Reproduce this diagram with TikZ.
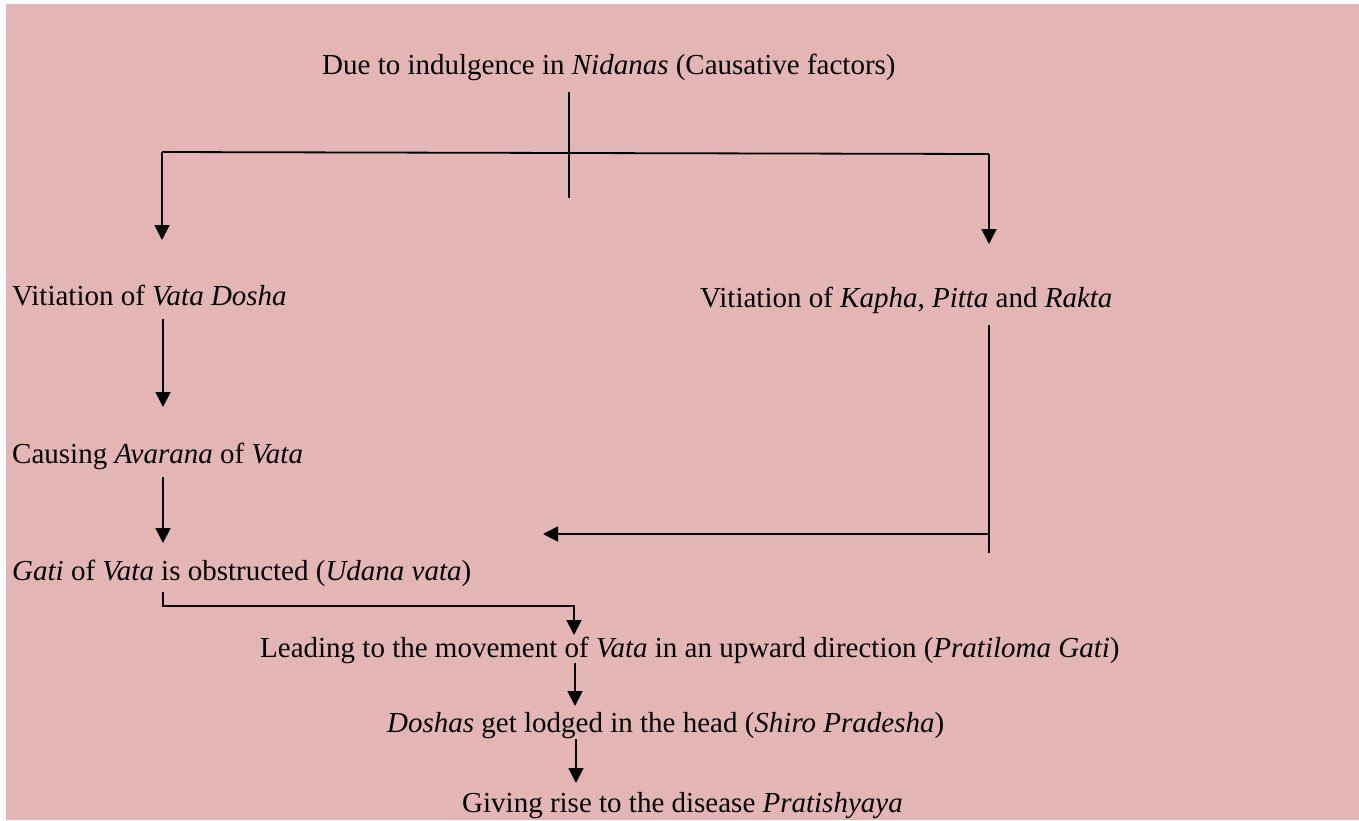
\documentclass[tikz,border=0pt]{standalone}
\usepackage{fontspec}
\setmainfont{Liberation Serif}
\usetikzlibrary{arrows.meta}
\definecolor{rosebg}{RGB}{228,181,181}

\tikzset{
    txt/.style={anchor=base west, inner sep=0pt, font=\fontsize{29}{34}\selectfont},
    link/.style={line width=1.8pt},
    arr/.style={link, -{Triangle[length=15pt,width=15pt]}}
}

\begin{document}
\begin{tikzpicture}[x=1pt,y=-1pt]
    \useasboundingbox (0,0) rectangle (1359,820);
    \fill[white] (0,0) rectangle (1359,820);
    \fill[rosebg] (6,4) rectangle (1359,820);
    %texts
    \node[txt] (nid) at (322,74) {Due to indulgence in \textit{Nidanas} (Causative factors)};
    \node[txt] (vat) at (12,305) {Vitiation of \textit{Vata Dosha}};
    \node[txt] (kap) at (700,307) {Vitiation of \textit{Kapha}, \textit{Pitta} and \textit{Rakta}};
    \node[txt] (ava) at (12,463) {Causing \textit{Avarana} of \textit{Vata}};
    \node[txt] (gat) at (12,580) {\textit{Gati} of \textit{Vata} is obstructed (\textit{Udana vata})};
    \node[txt] (pra) at (260,657) {Leading to the movement of \textit{Vata} in an upward direction (\textit{Pratiloma Gati})};
    \node[txt] (shi) at (387,732) {\textit{Doshas} get lodged in the head (\textit{Shiro Pradesha})};
    \node[txt] (dis) at (462,812) {Giving rise to the disease \textit{Pratishyaya}};
    %split
    \coordinate (st) at (569,92);
    \coordinate (sb) at (569,198);
    \coordinate (sl) at (162,152);
    \coordinate (sr) at (989,154);
    \draw[link] (st) -- (sb);
    \draw[link] (sl) -- (sr);
    \draw[arr] (sl) -- (162,240);
    \draw[arr] (sr) -- (989,244);
    %left column
    \draw[arr] (163,319) -- (163,407);
    \draw[arr] (163,477) -- (163,543);
    %right column
    \coordinate (kt) at (989,325);
    \coordinate (kb) at (989,553);
    \draw[link] (kt) -- (kb);
    \draw[arr] (989,534) -- (543,534);
    %bottom
    \draw[arr] (163,592) -- (163,606) -- (574,606) -- (574,635);
    \draw[arr] (575,663) -- (575,706);
    \draw[arr] (576,739) -- (576,783);
\end{tikzpicture}
\end{document}
